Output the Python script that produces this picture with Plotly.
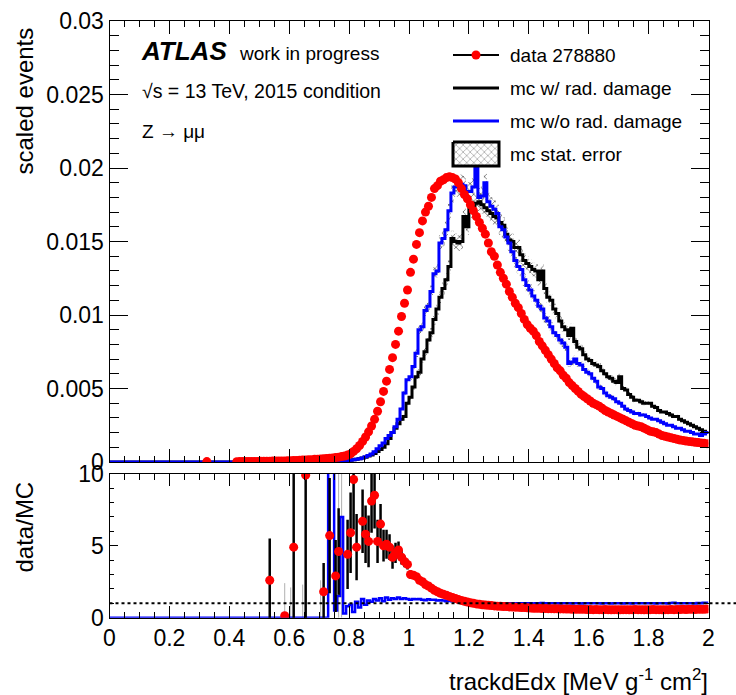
import numpy as np
import plotly.graph_objects as go

# ---------------- binning (x categories) ----------------
BIN_LOW, BIN_WIDTH, N_BINS = 0.0, 0.01, 200

# ---------------- top panel: scaled events (values in units of 1e-3) ----------------
data_1e3 = ([None]*32 + [0.03] + [None]*9 + [0.02] +
    [0.03,0.03,0.03,0.04,0.04,0.04,0.04,0.05,0.05,0.05,0.05,0.06,0.06,0.06,0.07,0.07,0.08] +
    [0.09,0.10,0.11,0.12,0.13,0.14,0.15,0.16,0.18,0.19] +
    [0.21,0.22,0.24,0.26,0.28,0.30,0.33,0.37,0.41,0.47] +
    [0.55,0.72,0.90,1.12,1.40,1.70,2.05,2.45,2.90,3.45] +
    [4.1,4.8,5.5,6.3,7.1,8.0,8.9,9.9,10.8,11.7] +
    [12.9,13.8,14.8,15.6,16.4,17.0,17.4,18.0,18.6,18.8] +
    [19.1,19.2,19.35,19.4,19.35,19.25,19.0,18.6,18.2,17.9] +
    [17.5,17.1,16.7,16.3,15.9,15.5,14.9,14.3,14.0,13.4] +
    [12.9,12.5,12.1,11.6,11.2,10.8,10.5,10.1,9.7,9.35] +
    [9.1,8.9,8.6,8.2,7.9,7.6,7.3,7.0,6.7,6.4] +
    [6.2,5.9,5.7,5.4,5.2,5.0,4.8,4.6,4.45,4.3] +
    [4.15,4.0,3.9,3.8,3.65,3.5,3.4,3.3,3.2,3.1] +
    [3.0,2.9,2.8,2.7,2.6,2.5,2.45,2.4,2.3,2.2] +
    [2.1,2.05,2.0,1.9,1.8,1.75,1.7,1.65,1.6,1.55] +
    [1.5,1.47,1.43,1.4,1.37,1.34,1.32,1.3,1.27,1.25])

mc_raddamage_1e3 = ([0.0]*53 + [0.01] + [0.0]*4 + [0.01] + [0.0]*2 + [0.01] + [0.0]*3 + [0.01] + [0.0]*5 + [0.01] +
    [0.02,0.05,0.05,0.07,0.08,0.08,0.10,0.10] +
    [0.12,0.15,0.18,0.22,0.27,0.33,0.40,0.48,0.58,0.72] +
    [0.85,1.0,1.25,1.6,2.0,2.3,2.6,2.9,3.1,4.0] +
    [4.4,5.1,5.8,6.1,7.0,7.5,8.3,8.8,9.7,10.4] +
    [11.2,11.8,12.4,13.3,15.2,15.0,14.9,15.0,16.7,16.0] +
    [17.2,17.4,17.6,17.7,17.5,17.3,17.1,16.9,16.7,16.6] +
    [16.3,16.1,15.5,15.1,15.0,14.6,14.6,14.1,13.7,13.5] +
    [13.3,13.1,13.0,12.4,13.0,11.8,11.2,11.0,10.4,10.1] +
    [9.6,9.2,9.0,8.6,9.1,8.2,7.8,7.7,7.3,7.0] +
    [6.9,6.7,6.6,6.5,6.2,6.0,5.8,5.7,5.5,5.4] +
    [5.8,5.0,4.9,4.6,4.4,4.2,4.2,4.1,4.0,4.0] +
    [4.0,3.8,3.7,3.5,3.4,3.4,3.3,3.2,3.1,3.1] +
    [2.9,2.8,2.7,2.6,2.5,2.4,2.3,2.2,2.1,2.0])

mc_noraddamage_1e3 = ([0.0]*72 +
    [0.02,0.04,0.05,0.06,0.07,0.08,0.09,0.10] +
    [0.12,0.15,0.18,0.22,0.27,0.35,0.45,0.55,0.70,0.90] +
    [1.1,1.3,1.6,1.8,2.0,2.4,2.9,3.6,4.7,5.6] +
    [5.8,6.5,7.4,9.0,9.2,10.3,10.6,11.6,12.8,13.0] +
    [14.9,15.2,15.8,17.1,18.3,18.7,18.7,18.9,18.8,18.4] +
    [18.4,18.7,20.3,18.0,18.1,19.0,17.7,17.4,17.2,16.9] +
    [16.0,15.8,15.3,14.9,14.3,13.7,13.3,13.1,12.4,12.0] +
    [11.7,11.3,11.0,10.6,10.4,9.8,9.6,9.2,8.8,8.6] +
    [8.3,8.1,7.8,6.7,6.8,7.0,6.7,6.6,6.3,6.1] +
    [6.0,5.7,5.5,5.1,5.0,4.7,4.5,4.4,4.3,4.1] +
    [4.0,3.8,3.6,3.5,3.4,3.3,3.3,3.2,3.2,3.1] +
    [3.0,2.9,2.9,2.8,2.7,2.6,2.5,2.5,2.4,2.3] +
    [2.3,2.2,2.1,2.1,2.0,1.9,1.9,1.8,1.9,2.0])

MC_REL_STAT_ERR = 0.035

# ---------------- bottom panel: data/MC ----------------
ratio_data = ([None]*53 + [2.6] + [None]*4 + [0.14] + [None]*2 + [4.9] + [None]*3 + [9.9] + [None]*5 + [1.8] +
    [None] + [5.7] + [None] + [2.9, 4.6] + [None]*2 + [4.4, 5.9, 9.6, 4.9] + [None] +
    [6.7,5.8,5.3,8.1,8.5,5.3] +
    [6.5,5.0,5.1,4.9,4.2,4.5,4.7,4.2,3.9,3.7] +
    [3.0,2.95,2.85,2.6,2.5,2.3,2.2,2.05,1.9,1.8] +
    [1.7,1.62,1.56,1.48,1.4,1.33,1.26,1.2,1.14,1.09] +
    [1.04,1.0,0.96,0.93,0.9,0.88,0.86,0.84,0.82,0.8] +
    [0.79,0.78,0.77,0.75,0.74,0.73,0.72,0.71,0.70,0.69] +
    [0.67,0.66,0.66,0.65,0.64,0.64,0.63,0.63,0.62,0.62] +
    [0.61,0.61,0.60,0.60,0.59,0.59,0.58,0.58,0.58,0.57] +
    [0.57,0.56,0.57,0.56,0.56,0.57,0.56,0.55,0.56,0.56] +
    [0.55,0.56,0.56,0.55,0.56,0.57,0.56,0.56,0.55,0.56] +
    [0.56,0.57,0.56,0.56,0.55,0.56,0.56,0.57,0.56,0.57] +
    [0.57,0.58,0.57,0.58,0.58,0.57,0.58,0.59,0.58,0.60])

ratio_data_err = ([0.0]*53 + [2.9] + [0.0]*4 + [0.0] + [0.0]*2 + [8.0] + [0.0]*3 + [12.0] + [0.0]*5 + [2.0] +
    [0.0] + [4.0] + [0.0] + [2.5, 3.0] + [0.0]*2 + [2.4, 2.8, 3.5, 2.3] + [0.0] +
    [2.2,2.0,1.8,2.2,2.3,1.5] +
    [1.4,1.1,1.0,0.9,0.8,0.7,0.6,0.5,0.4,0.35] +
    [0.3,0.25,0.2,0.2,0.15,0.15,0.1,0.1,0.1,0.1] +
    [0.05]*90)

ratio_mc = ([0.0]*73 + [30.0,30.0,0.5,1.5,7.0,0.3,0.8] +
    [0.9,0.4,1.1,0.7,1.3,0.9,1.2,1.1,1.3,1.2] +
    [1.35,1.15,1.4,1.25,1.35,1.3,1.4,1.3,1.35,1.3] +
    [1.25,1.3,1.28,1.3,1.25,1.22,1.28,1.24,1.25,1.2] +
    [1.22,1.2,1.15,1.18,1.15,1.12,1.1,1.12,1.1,1.08] +
    [1.06,1.05,1.04,1.03,1.02,1.01,1.01,1.0,1.0,1.0] +
    [1.0,0.99,1.0,1.01,1.0,0.99,1.0,1.0,1.01,1.0] +
    [1.0,0.99,1.0,1.0,1.02,1.0,0.99,1.0,1.01,1.0] +
    [0.99,1.0,1.01,1.0,0.99,1.0,1.0,0.99,1.0,1.0] +
    [1.0,1.0,1.01,1.0,0.99,1.0,1.0,0.99,1.0,1.01] +
    [1.0,0.99,1.0,1.0,0.99,1.0,1.01,1.0,1.0,1.0] +
    [1.0,1.0,0.99,1.0,1.0,1.0,0.99,1.02,1.04,1.0] +
    [1.0,1.0,1.01,1.0,1.0,0.99,1.02,1.0,1.04,1.03])

# MC stat. error bars on the ratio where the MC is sparse
ratio_mc_err_bins = [0.585, 0.605, 0.645, 0.705, 0.765, 0.775]
ratio_mc_err_up = [2.4, 2.1, 2.3, 2.6, 10.0, 10.0]

x_ticks = [0, 0.2, 0.4, 0.6, 0.8, 1.0, 1.2, 1.4, 1.6, 1.8, 2.0]
x_ticklabels = ["0", "0.2", "0.4", "0.6", "0.8", "1", "1.2", "1.4", "1.6", "1.8", "2"]
y_top_ticks = [0, 0.005, 0.01, 0.015, 0.02, 0.025, 0.03]
y_top_ticklabels = ["0", "0.005", "0.01", "0.015", "0.02", "0.025", "0.03"]
y_bot_ticks = [0, 5, 10]
y_bot_ticklabels = ["0", "5", "10"]

legend_labels = ["data 278880", "mc w/ rad. damage", "mc w/o rad. damage", "mc stat. error"]

for arr in (data_1e3, mc_raddamage_1e3, mc_noraddamage_1e3, ratio_data, ratio_data_err, ratio_mc):
    assert len(arr) == N_BINS, len(arr)

# ---------------- derived ----------------
edges = np.round(BIN_LOW + BIN_WIDTH*np.arange(N_BINS+1), 4)
centers = np.round(edges[:-1] + BIN_WIDTH/2, 4)
scale = 1e-3
data_v = [None if v is None else v*scale for v in data_1e3]
mcw = np.array(mc_raddamage_1e3)*scale
mcwo = np.array(mc_noraddamage_1e3)*scale

def step(vals):
    vals = list(vals)
    return list(edges), vals + [vals[-1]]

W, H = 736, 695
def px(x):  # x pixel -> paper
    return x / W
def py(y):  # y pixel -> paper
    return 1 - y / H

FONT = "Liberation Sans"
HATCH = dict(shape="x", fgcolor="#666666", bgcolor="rgba(0,0,0,0)", size=5, solidity=0.3)

fig = go.Figure()

# MC stat error bands (top panel)
for vals in (mcw, mcwo):
    xs, ys = step(vals)
    up = [v*(1+MC_REL_STAT_ERR) for v in ys]
    lo = [v*(1-MC_REL_STAT_ERR) for v in ys]
    fig.add_trace(go.Scatter(x=xs, y=up, xaxis="x2", yaxis="y", mode="lines", line=dict(width=0, shape="hv"),
                             showlegend=False, hoverinfo="skip"))
    fig.add_trace(go.Scatter(x=xs, y=lo, xaxis="x2", yaxis="y", mode="lines", line=dict(width=0, shape="hv"),
                             fill="tonexty", fillcolor="rgba(0,0,0,0)", fillpattern=HATCH,
                             showlegend=False, hoverinfo="skip"))

xs, ys = step(mcw)
fig.add_trace(go.Scatter(x=xs, y=ys, xaxis="x2", yaxis="y", mode="lines", name=legend_labels[1],
                         line=dict(color="black", width=3, shape="hv"), showlegend=False))
xs, ys = step(mcwo)
fig.add_trace(go.Scatter(x=xs, y=ys, xaxis="x2", yaxis="y", mode="lines", name=legend_labels[2],
                         line=dict(color="#0000ff", width=3, shape="hv"), showlegend=False))
fig.add_trace(go.Scatter(x=centers, y=data_v, xaxis="x2", yaxis="y", mode="markers", name=legend_labels[0],
                         marker=dict(color="#ff0000", size=9, line=dict(width=0)), showlegend=False))

# bottom panel
fig.add_trace(go.Scatter(x=ratio_mc_err_bins, y=[0]*len(ratio_mc_err_bins), xaxis="x", yaxis="y2", mode="markers",
                         marker=dict(size=1, color="rgba(0,0,0,0)"),
                         error_y=dict(type="data", symmetric=False, array=ratio_mc_err_up,
                                      arrayminus=[0]*len(ratio_mc_err_up), color="#b0b0b0", thickness=1, width=0),
                         showlegend=False, hoverinfo="skip"))
xs, ys = step(ratio_mc)
fig.add_trace(go.Scatter(x=xs, y=ys, xaxis="x", yaxis="y2", mode="lines",
                         line=dict(color="#0000ff", width=2.5, shape="hv"), showlegend=False))
rx = [c for c, v in zip(centers, ratio_data) if v is not None]
ry = [v for v in ratio_data if v is not None]
re = [e for e, v in zip(ratio_data_err, ratio_data) if v is not None]
fig.add_trace(go.Scatter(x=rx, y=ry, xaxis="x", yaxis="y2", mode="markers",
                         marker=dict(color="#ff0000", size=9, line=dict(width=0)),
                         error_y=dict(type="data", array=re, color="black", thickness=2.5, width=0),
                         showlegend=False))

# ---------------- legend (drawn on a pixel overlay axis) ----------------
LX0, LX1 = 453, 499
leg_y = [55, 88, 121, 154]
fig.add_trace(go.Scatter(x=[LX0, LX1], y=[leg_y[0]]*2, xaxis="x3", yaxis="y3", mode="lines",
                         line=dict(color="black", width=2), showlegend=False, hoverinfo="skip"))
fig.add_trace(go.Scatter(x=[(LX0+LX1)/2], y=[leg_y[0]], xaxis="x3", yaxis="y3", mode="markers",
                         marker=dict(color="#ff0000", size=9), showlegend=False, hoverinfo="skip"))
fig.add_trace(go.Scatter(x=[LX0, LX1], y=[leg_y[1]]*2, xaxis="x3", yaxis="y3", mode="lines",
                         line=dict(color="black", width=3), showlegend=False, hoverinfo="skip"))
fig.add_trace(go.Scatter(x=[LX0, LX1], y=[leg_y[2]]*2, xaxis="x3", yaxis="y3", mode="lines",
                         line=dict(color="#0000ff", width=3), showlegend=False, hoverinfo="skip"))
fig.add_trace(go.Scatter(x=[LX0, LX1, LX1, LX0, LX0], y=[leg_y[3]-12, leg_y[3]-12, leg_y[3]+12, leg_y[3]+12, leg_y[3]-12],
                         xaxis="x3", yaxis="y3", mode="lines", fill="toself", fillcolor="white",
                         fillpattern=dict(shape="x", fgcolor="#9a9a9a", bgcolor="white", size=5, solidity=0.25),
                         line=dict(color="black", width=3), showlegend=False, hoverinfo="skip"))

annotations = []
for lab, y in zip(legend_labels, leg_y):
    annotations.append(dict(xref="x3", yref="y3", x=508, y=y, text=lab, showarrow=False,
                            xanchor="left", yanchor="middle", font=dict(size=19, color="black", family=FONT)))

annotations += [
    dict(xref="x3", yref="y3", x=139, y=51, text="<b><i>ATLAS</i></b>", showarrow=False,
         xanchor="left", yanchor="middle", font=dict(size=26, color="black", family=FONT)),
    dict(xref="x3", yref="y3", x=237, y=53, text="work in progress", showarrow=False,
         xanchor="left", yanchor="middle", font=dict(size=19, color="black", family=FONT)),
    dict(xref="x3", yref="y3", x=140, y=91, text="√s = 13 TeV, 2015 condition", showarrow=False,
         xanchor="left", yanchor="middle", font=dict(size=19.5, color="black", family=FONT)),
    dict(xref="x3", yref="y3", x=140, y=131, text="Z → μμ", showarrow=False,
         xanchor="left", yanchor="middle", font=dict(size=19, color="black", family=FONT)),
    dict(xref="x3", yref="y3", x=24, y=26, text="scaled events", showarrow=False, textangle=-90,
         xanchor="center", yanchor="top", font=dict(size=24, color="black", family=FONT)),
    dict(xref="x3", yref="y3", x=24, y=480, text="data/MC", showarrow=False, textangle=-90,
         xanchor="center", yanchor="top", font=dict(size=24, color="black", family=FONT)),
    dict(xref="x3", yref="y3", x=710, y=680, text="trackdEdx [MeV g<sup>-1</sup> cm<sup>2</sup>]", showarrow=False,
         xanchor="right", yanchor="middle", font=dict(size=24, color="black", family=FONT)),
]

X0, X1 = px(109.5), px(708.5)
common_x = dict(range=[0, 2], tickvals=x_ticks, ticktext=x_ticklabels, ticks="inside", mirror="allticks",
                showline=True, linecolor="black", linewidth=1, tickcolor="black", tickwidth=1,
                showgrid=False, zeroline=False, domain=[X0, X1], automargin=False,
                minor=dict(dtick=0.05, ticks="inside", ticklen=6, tickcolor="black", tickwidth=1, showgrid=False))
common_y = dict(ticks="inside", mirror="allticks", showline=True, linecolor="black", linewidth=1,
                tickcolor="black", showgrid=False, zeroline=False, tickfont=dict(size=23), automargin=False)
fig.update_layout(
    template="none",
    width=W, height=H, autosize=False, margin=dict(l=0, r=0, t=0, b=0, pad=0),
    paper_bgcolor="white", plot_bgcolor="rgba(0,0,0,0)",
    font=dict(family=FONT, color="black"),
    showlegend=False,
    xaxis=dict(**common_x, anchor="y2", ticklen=12, tickfont=dict(size=23), ticklabelstandoff=0),
    xaxis2=dict(**common_x, anchor="y", matches="x", ticklen=13, showticklabels=False),
    yaxis=dict(**common_y, domain=[py(462), py(21)], anchor="x2", range=[0, 0.03], tickvals=y_top_ticks,
               ticktext=y_top_ticklabels, ticklen=18,
               minor=dict(dtick=0.001, ticks="inside", ticklen=9, tickcolor="black", showgrid=False)),
    yaxis2=dict(**common_y, domain=[py(617.7), py(473.7)], anchor="x", range=[0, 10], tickvals=y_bot_ticks,
                ticktext=y_bot_ticklabels, ticklen=8,
                minor=dict(dtick=1, ticks="inside", ticklen=4, tickcolor="black", showgrid=False)),
    xaxis3=dict(domain=[0, 1], range=[0, W], visible=False, anchor="y3", fixedrange=True, automargin=False),
    yaxis3=dict(domain=[0, 1], range=[H, 0], visible=False, anchor="x3", fixedrange=True, automargin=False),
    annotations=annotations,
    shapes=[dict(type="line", xref="paper", yref="y2", x0=X0, x1=1.0, y0=1, y1=1,
                 line=dict(color="black", width=2, dash="dot"))],
)

fig.write_html("out.html")
